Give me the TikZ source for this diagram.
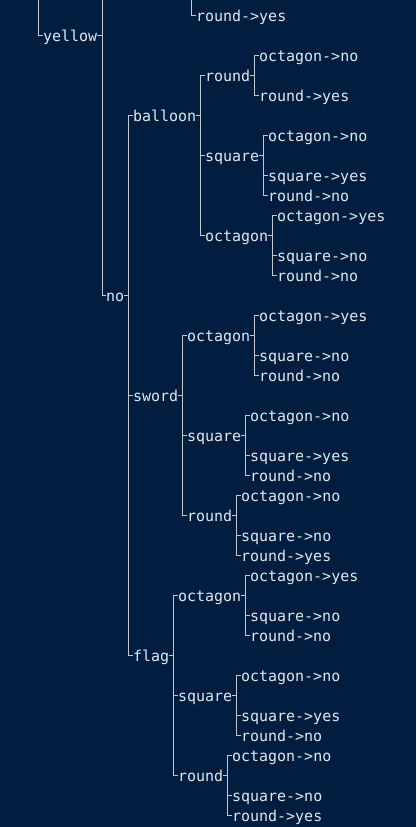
\documentclass[tikz,border=0pt]{standalone}
\usepackage{fontspec}
\setmonofont{DejaVu Sans Mono}
\definecolor{bgc}{RGB}{1,30,64}
\definecolor{txc}{RGB}{226,231,237}
\definecolor{lnc}{RGB}{196,200,205}
\begin{document}
\begin{tikzpicture}[x=1pt,y=-1pt,
  lbl/.style={anchor=west,inner sep=0pt,outer sep=0pt,text=txc,
    font=\ttfamily\fontsize{15}{18}\selectfont,text height=12pt,text depth=0pt},
  conn/.style={draw=lnc,line width=1pt}]
\fill[bgc] (0,0) rectangle (416,827);
\useasboundingbox (0,0) rectangle (416,827);
% grid: text x = 43 + 9k ; row y = 15 + 20r
\coordinate (t1) at (38.5,0);
\coordinate (t2) at (102,0);
\coordinate (t3) at (191.5,0);
\node[lbl] (r0) at (196,15) {round->yes};
\node[lbl] (yel) at (43,35) {yellow};
\node[lbl] (no) at (106,295) {no};
% balloon
\node[lbl] (bal) at (133,115) {balloon};
\node[lbl] (br) at (205,75) {round};
\node[lbl] (br1) at (259,55) {octagon->no};
\node[lbl] (br2) at (259,95) {round->yes};
\node[lbl] (bs) at (205,155) {square};
\node[lbl] (bs1) at (268,135) {octagon->no};
\node[lbl] (bs2) at (268,175) {square->yes};
\node[lbl] (bs3) at (268,195) {round->no};
\node[lbl] (bo) at (205,235) {octagon};
\node[lbl] (bo1) at (277,215) {octagon->yes};
\node[lbl] (bo2) at (277,255) {square->no};
\node[lbl] (bo3) at (277,275) {round->no};
% sword
\node[lbl] (sw) at (133,395) {sword};
\node[lbl] (so) at (187,335) {octagon};
\node[lbl] (so1) at (259,315) {octagon->yes};
\node[lbl] (so2) at (259,355) {square->no};
\node[lbl] (so3) at (259,375) {round->no};
\node[lbl] (ss) at (187,435) {square};
\node[lbl] (ss1) at (250,415) {octagon->no};
\node[lbl] (ss2) at (250,455) {square->yes};
\node[lbl] (ss3) at (250,475) {round->no};
\node[lbl] (sr) at (187,515) {round};
\node[lbl] (sr1) at (241,495) {octagon->no};
\node[lbl] (sr2) at (241,535) {square->no};
\node[lbl] (sr3) at (241,555) {round->yes};
% flag
\node[lbl] (fl) at (133,655) {flag};
\node[lbl] (fo) at (178,595) {octagon};
\node[lbl] (fo1) at (250,575) {octagon->yes};
\node[lbl] (fo2) at (250,615) {square->no};
\node[lbl] (fo3) at (250,635) {round->no};
\node[lbl] (fs) at (178,695) {square};
\node[lbl] (fs1) at (241,675) {octagon->no};
\node[lbl] (fs2) at (241,715) {square->yes};
\node[lbl] (fs3) at (241,735) {round->no};
\node[lbl] (fr) at (178,775) {round};
\node[lbl] (fr1) at (232,755) {octagon->no};
\node[lbl] (fr2) at (232,795) {square->no};
\node[lbl] (fr3) at (232,815) {round->yes};
% connectors
\draw[conn] (t1) |- (yel.west);
\draw[conn] (t3) |- (r0.west);
\draw[conn] (t2) |- (no.west);
\draw[conn] (yel.east) -- (yel.east -| t2);
\foreach \p/\cs in {no/{bal,sw,fl},bal/{br,bs,bo},br/{br1,br2},bs/{bs1,bs2,bs3},bo/{bo1,bo2,bo3},
  sw/{so,ss,sr},so/{so1,so2,so3},ss/{ss1,ss2,ss3},sr/{sr1,sr2,sr3},
  fl/{fo,fs,fr},fo/{fo1,fo2,fo3},fs/{fs1,fs2,fs3},fr/{fr1,fr2,fr3}}{
  \foreach \c in \cs {
    \draw[conn] (\p.east) -- ++(4.5,0) |- (\c.west);
  }
}
\end{tikzpicture}
\end{document}
